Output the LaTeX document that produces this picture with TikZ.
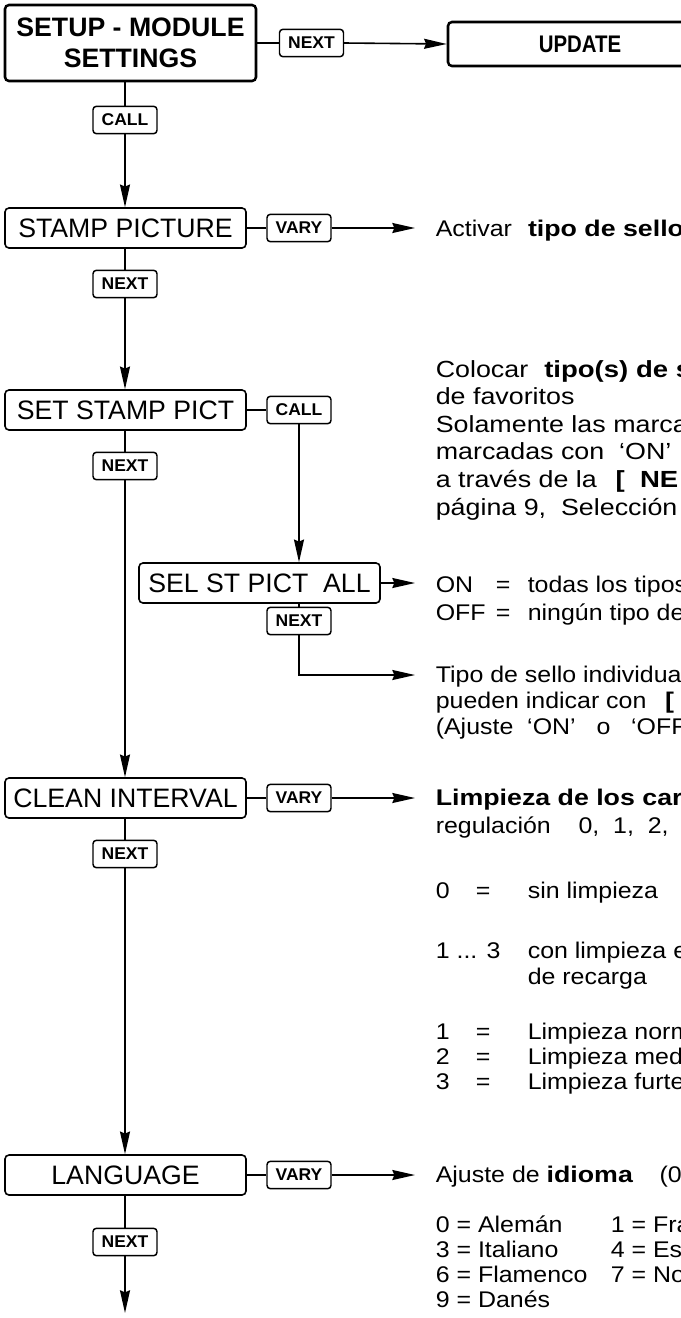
\documentclass[tikz,border=0pt]{standalone}
\usepackage{fontspec}
\setmainfont{Liberation Sans}
\newfontfamily\boxfont{Liberation Sans}
\newfontfamily\rtfont[FakeStretch=1.1]{Liberation Sans}
\newfontfamily\rtwfont[FakeStretch=1.15]{Liberation Sans}
\newfontfamily\rtbfam[FakeStretch=1.18]{Liberation Sans}
\newfontfamily\labfont[FakeStretch=1.03]{Liberation Sans}
\newfontfamily\updfont[FakeStretch=0.85]{Liberation Sans}
\newcommand{\bw}[1]{{\rtbfam\bfseries #1}}
\usetikzlibrary{arrows.meta}
\tikzset{
  mainbox/.style={draw, rounded corners=3pt, minimum width=180.75pt, minimum height=30pt, inner sep=0pt, line width=1.2pt, font=\boxfont\fontsize{20}{24}\selectfont},
  lab/.style={draw, rounded corners=2.5pt, minimum width=48pt, minimum height=20.5pt, inner sep=0pt, line width=1.1pt, font=\labfont\bfseries\fontsize{12.75}{15}\selectfont},
  rt/.style={anchor=base west, inner sep=0pt, font=\rtfont\fontsize{17}{20}\selectfont},
  rtw/.style={anchor=base west, inner sep=0pt, font=\rtwfont\fontsize{17.5}{20}\selectfont},
  arr/.style={-{Stealth[length=17pt,width=7.5pt,inset=1.5pt]}},
}
\begin{document}
\begin{tikzpicture}[x=0.75pt,y=-0.75pt,line width=1.2pt]
\useasboundingbox (0,0) rectangle (681,1318);
\clip (0,0) rectangle (681,1318);
% row 1
\node[mainbox, line width=1.9pt, minimum width=188.25pt, minimum height=57pt, align=center, font=\boxfont\bfseries\fontsize{20}{23.25}\selectfont] (setup) at (130.5,43) {SETUP - MODULE\\SETTINGS};
\node[lab] (n1) at (311.5,43) {NEXT};
\node[mainbox, line width=1.9pt, minimum width=198pt, minimum height=33pt, font=\updfont\bfseries\fontsize{18}{20}\selectfont] (update) at (580,44) {UPDATE};
\node[lab] (c1) at (125,120) {CALL};
% row 2
\node[mainbox] (stamp) at (125.5,228) {STAMP PICTURE};
\node[lab] (v1) at (299,228) {VARY};
\coordinate (t1) at (415,228);
\node[rt] (x1) at (435,236) {Activar\hspace{12pt}\bw{tipo de sello}};
\node[lab] (n2) at (125,284) {NEXT};
% row 3
\node[mainbox] (setst) at (125.5,410) {SET STAMP PICT};
\node[lab] (c2) at (299,410) {CALL};
\node[lab] (n3) at (125,466) {NEXT};
\node[rtw] (x2) at (435,377) {Colocar\hspace{12pt}\bw{tipo(s) de s}};
\node[rtw] (x3) at (435,404.6) {de favoritos};
\node[rtw] (x4) at (435,432.2) {Solamente las marca};
\node[rtw] (x5) at (435,459.8) {marcadas con\ \ ‘ON’};
\node[rtw] (x6) at (435,487.4) {a través de la\hspace{14pt}\bw{[\ \ NE}};
\node[rtw] (x7) at (435,515) {página 9,\ \ Selección};
% SEL
\node[mainbox] (sel) at (259.5,583) {SEL ST PICT\ \ ALL};
\coordinate (t2) at (415,583);
\node[rt] (x8) at (435,592) {\makebox[45pt][l]{ON}\makebox[24pt][l]{=}todas los tipos};
\node[rt] (x9) at (435,620) {\makebox[45pt][l]{OFF}\makebox[24pt][l]{=}ningún tipo de};
\node[lab] (n4) at (299,621) {NEXT};
\coordinate (k1) at (299,675);
\coordinate (t3) at (415,675);
\node[rt] (x10) at (435,682) {Tipo de sello individuale};
\node[rt] (x11) at (435,708) {pueden indicar con\hspace{14pt}\bw{[}};
\node[rt] (x12) at (435,734) {(Ajuste\ \ ‘ON’\ \ \ o\ \ \ ‘OFF};
% CLEAN
\node[mainbox] (clean) at (125.5,798) {CLEAN INTERVAL};
\node[lab] (v2) at (299,798) {VARY};
\coordinate (t4) at (415,798);
\node[rt] (x13) at (435,805) {\bw{Limpieza de los car}};
\node[rt] (x14) at (435,833) {regulación\ \ \ \ 0,\ \ 1,\ \ 2,};
\node[lab] (n5) at (125,854) {NEXT};
\node[rt] (x15) at (435,898) {\makebox[30pt][l]{0}\makebox[39pt][l]{=}sin limpieza};
\node[rt] (x16) at (435,958) {\makebox[69pt][l]{1 ... 3}con limpieza e};
\node[rt] (x17) at (527,984) {de recarga};
\node[rt] (x18) at (435,1039) {\makebox[30pt][l]{1}\makebox[39pt][l]{=}Limpieza norm};
\node[rt] (x19) at (435,1064) {\makebox[30pt][l]{2}\makebox[39pt][l]{=}Limpieza medi};
\node[rt] (x20) at (435,1089) {\makebox[30pt][l]{3}\makebox[39pt][l]{=}Limpieza furte};
% LANGUAGE
\node[mainbox] (lang) at (125.5,1175) {LANGUAGE};
\node[lab] (v3) at (299,1175) {VARY};
\coordinate (t5) at (415,1175);
\node[rt] (x21) at (435,1182) {Ajuste de \bw{idioma}\hspace{20pt}(0};
\node[rt] (x22) at (435,1232) {\makebox[131.25pt][l]{0 = Alemán}1 = Fra};
\node[rt] (x23) at (435,1257) {\makebox[131.25pt][l]{3 = Italiano}4 = Esp};
\node[rt] (x24) at (435,1282) {\makebox[131.25pt][l]{6 = Flamenco}7 = No};
\node[rt] (x25) at (435,1307) {9 = Danés};
\node[lab] (n6) at (125,1242) {NEXT};
\coordinate (e1) at (125,1313);
% connectors
\draw (setup.east) -- (n1.west);
\draw[arr] (n1.east) -- (update.west);
\draw (c1.north |- setup.south) -- (c1.north);
\draw[arr] (c1.south) -- (c1.south |- stamp.north);
\draw (stamp.east) -- (v1.west);
\draw[arr] (v1.east) -- (t1);
\draw (n2.north |- stamp.south) -- (n2.north);
\draw[arr] (n2.south) -- (n2.south |- setst.north);
\draw (setst.east) -- (c2.west);
\draw[arr] (c2.south) -- (c2.south |- sel.north);
\draw (n3.north |- setst.south) -- (n3.north);
\draw[arr] (n3.south) -- (n3.south |- clean.north);
\draw[arr] (sel.east) -- (t2);
\draw (n4.north |- sel.south) -- (n4.north);
\draw[arr] (n4.south) -- (k1) -- (t3);
\draw (clean.east) -- (v2.west);
\draw[arr] (v2.east) -- (t4);
\draw (n5.north |- clean.south) -- (n5.north);
\draw[arr] (n5.south) -- (n5.south |- lang.north);
\draw (lang.east) -- (v3.west);
\draw[arr] (v3.east) -- (t5);
\draw (n6.north |- lang.south) -- (n6.north);
\draw[arr] (n6.south) -- (e1);
\end{tikzpicture}
\end{document}
